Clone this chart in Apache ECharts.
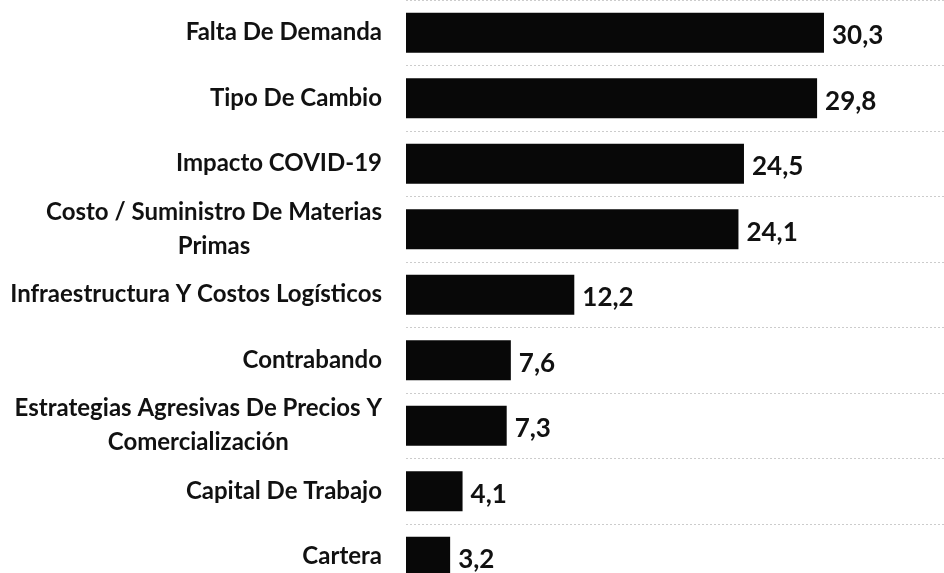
<!DOCTYPE html>
<html>
<head>
<meta charset="utf-8">
<script src="https://cdn.jsdelivr.net/npm/echarts@6/dist/echarts.min.js"></script>
<style>
  html, body { margin: 0; padding: 0; background: #fff; }
  #chart { width: 944px; height: 573px; }
</style>
</head>
<body>
<div id="chart"></div>
<script>
// Obstáculos señalados (%), de mayor a menor
const categories = [
  'Falta De Demanda',
  'Tipo De Cambio',
  'Impacto COVID-19',
  'Costo / Suministro De Materias\nPrimas',
  'Infraestructura Y Costos Logísticos',
  'Contrabando',
  'Estrategias Agresivas De Precios Y\nComercialización',
  'Capital De Trabajo',
  'Cartera'
];
const values = [30.3, 29.8, 24.5, 24.1, 12.2, 7.6, 7.3, 4.1, 3.2];

const chart = echarts.init(document.getElementById('chart'), null, { renderer: 'canvas' });

chart.setOption({
  backgroundColor: '#ffffff',
  animation: false,
  // the last row runs slightly past the bottom edge of the canvas
  grid: {
    left: 406, right: 0, top: 0, height: 589.5,
    containLabel: false,
    outerBoundsMode: 'none'
  },
  xAxis: {
    type: 'value',
    min: 0,
    max: 39,
    show: false
  },
  yAxis: {
    type: 'category',
    inverse: true,
    data: categories,
    axisLine: { show: false },
    axisTick: { show: false },
    splitLine: {
      show: true,
      lineStyle: { color: '#cccccc', width: 1, type: [2, 2] }
    },
    axisLabel: {
      margin: 24,
      align: 'right',
      color: '#111',
      fontFamily: 'Lato',
      fontSize: 24,
      fontWeight: 'bold',
      lineHeight: 34,
      formatter: function (v) {
        return v.split('\n').map(function (s) { return '{c|' + s + '}'; }).join('\n');
      },
      rich: {
        c: {
          align: 'center',
          color: '#111',
          fontFamily: 'Lato',
          fontSize: 24,
          fontWeight: 'bold',
          lineHeight: 34
        }
      }
    }
  },
  series: [{
    type: 'bar',
    data: values,
    barWidth: 40,
    itemStyle: { color: '#080808' },
    label: {
      show: true,
      position: 'right',
      distance: 8,
      offset: [0, 3],
      color: '#111',
      fontFamily: 'Lato',
      fontSize: 26,
      fontWeight: 'bold',
      formatter: function (p) { return p.value.toFixed(1).replace('.', ','); }
    }
  }]
});
</script>
</body>
</html>
